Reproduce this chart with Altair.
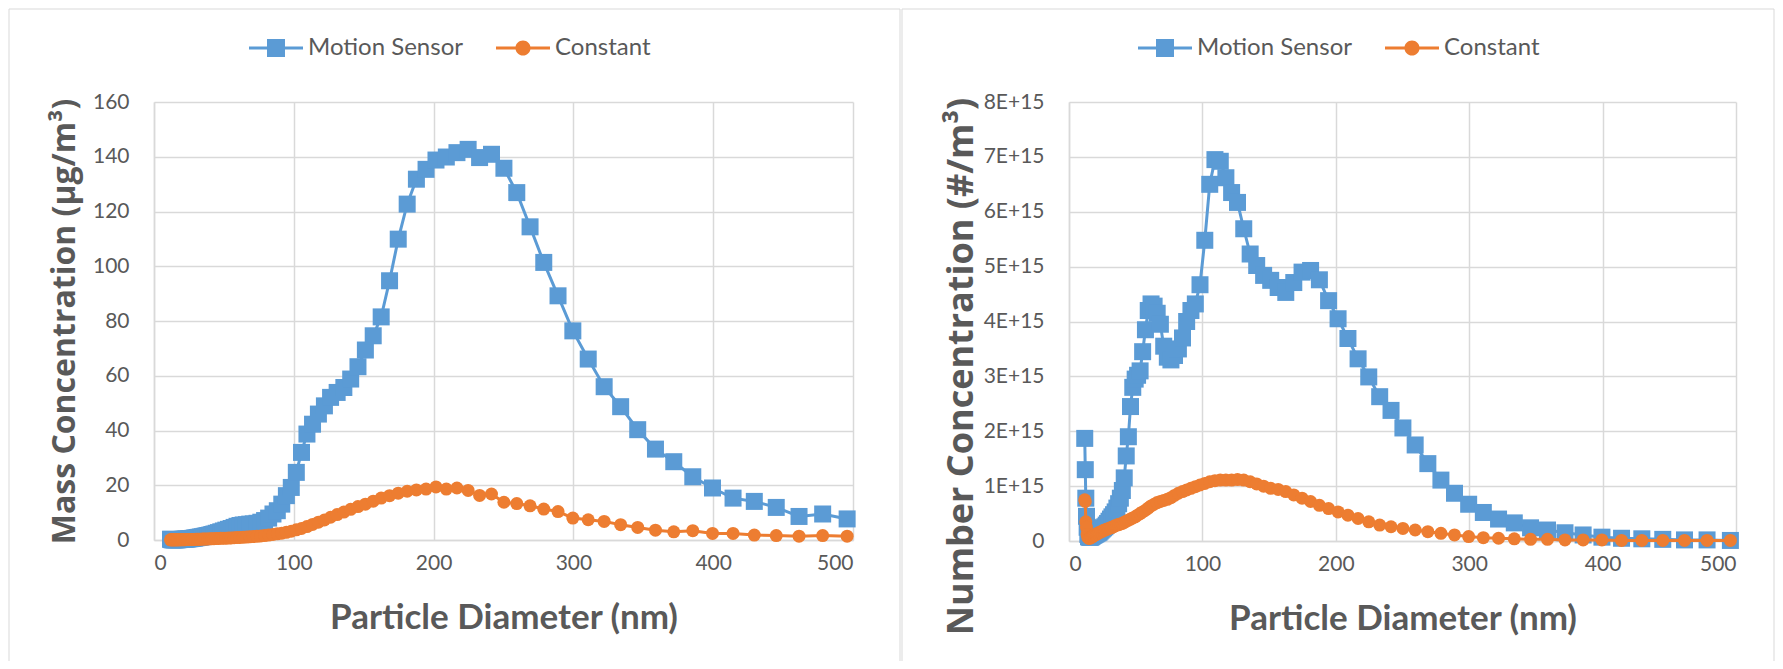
import altair as alt
import pandas as pd

# Particle diameter bins (nm)
diam = [11.8, 12.2, 12.6, 13.1, 13.6, 14.1, 14.6, 15.1, 15.7, 16.3,
        16.8, 17.5, 18.1, 18.8, 19.5, 20.2, 20.9, 21.7, 22.5, 23.3,
        24.1, 25.0, 25.9, 26.9, 27.9, 28.9, 30.0, 31.1, 32.2, 33.4,
        34.6, 35.9, 37.2, 38.5, 40.0, 41.4, 42.9, 44.5, 46.1, 47.8,
        49.6, 51.4, 53.3, 55.2, 57.3, 59.4, 61.5, 63.8, 66.1, 68.5,
        71.0, 73.7, 76.4, 79.1, 82.0, 85.1, 88.2, 91.4, 94.7, 98.2,
        101.8, 105.5, 109.4, 113.4, 117.6, 121.9, 126.3, 131.0, 135.8, 140.7,
        145.9, 151.2, 156.8, 162.5, 168.5, 174.7, 181.1, 187.7, 194.6, 201.7,
        209.1, 216.7, 224.7, 232.9, 241.4, 250.3, 259.5, 269.0, 278.8, 289.0,
        299.6, 310.6, 322.0, 333.8, 346.0, 358.7, 371.8, 385.4, 399.5, 414.2,
        429.4, 445.1, 461.4, 478.3, 495.8]

# Mass concentration (ug/m3)
mass_motion = [0.3, 0.2, 0.15, 0.1, 0.1, 0.1, 0.1, 0.1, 0.1, 0.1,
               0.12, 0.14, 0.16, 0.18, 0.2, 0.22, 0.25, 0.28, 0.32, 0.36,
               0.4, 0.45, 0.5, 0.55, 0.62, 0.7, 0.8, 0.9, 1.0, 1.1,
               1.2, 1.35, 1.5, 1.65, 1.8, 2.0, 2.2, 2.45, 2.7, 3.0,
               3.3, 3.6, 3.9, 4.2, 4.6, 5.0, 5.3, 5.5, 5.6, 5.8,
               5.9, 6.1, 6.5, 7.1, 8.0, 9.5, 10.7, 13.1, 16.2, 19.2,
               24.7, 32.0, 38.7, 42.3, 46.0, 49.0, 52.1, 53.9, 55.7, 58.8,
               63.3, 69.4, 74.6, 81.5, 94.7, 109.9, 122.7, 131.8, 135.4, 138.8,
               139.9, 141.5, 142.7, 139.7, 140.9, 135.8, 126.9, 114.4, 101.4, 89.2,
               76.4, 66.1, 56.0, 48.7, 40.3, 33.2, 28.6, 23.1, 19.0, 15.3,
               14.1, 11.9, 8.6, 9.5, 7.7]
mass_const = [0.05, 0.05, 0.05, 0.05, 0.05, 0.05, 0.06, 0.06, 0.06, 0.07,
              0.07, 0.08, 0.08, 0.09, 0.1, 0.1, 0.11, 0.12, 0.13, 0.14,
              0.15, 0.16, 0.18, 0.19, 0.2, 0.22, 0.24, 0.26, 0.28, 0.3,
              0.32, 0.35, 0.38, 0.4, 0.43, 0.46, 0.5, 0.53, 0.57, 0.6,
              0.64, 0.68, 0.72, 0.77, 0.82, 0.88, 0.94, 1.0, 1.07, 1.15,
              1.24, 1.35, 1.48, 1.62, 1.8, 2.0, 2.25, 2.5, 2.8, 3.2,
              3.7, 4.2, 4.9, 5.7, 6.5, 7.3, 8.3, 9.3, 10.2, 11.2,
              12.2, 13.1, 14.2, 15.3, 16.2, 17.1, 17.8, 18.3, 18.6, 19.4,
              18.6, 19.0, 18.1, 16.3, 16.8, 13.8, 13.3, 12.5, 11.3, 10.4,
              8.0, 7.4, 6.8, 5.6, 4.6, 3.6, 3.0, 3.4, 2.4, 2.4,
              1.8, 1.6, 1.4, 1.6, 1.4]

# Number concentration (#/m3)
num_motion = [1.87e15, 1.30e15, 0.78e15, 0.45e15, 0.25e15, 0.12e15, 0.08e15, 0.07e15, 0.07e15, 0.07e15,
              0.08e15, 0.09e15, 0.10e15, 0.11e15, 0.12e15, 0.13e15, 0.14e15, 0.15e15, 0.16e15, 0.18e15,
              0.20e15, 0.22e15, 0.24e15, 0.26e15, 0.29e15, 0.32e15, 0.36e15, 0.40e15, 0.44e15, 0.48e15,
              0.53e15, 0.60e15, 0.68e15, 0.78e15, 0.92e15, 1.15e15, 1.55e15, 1.90e15, 2.45e15, 2.80e15,
              2.95e15, 3.02e15, 3.10e15, 3.45e15, 3.85e15, 4.20e15, 4.32e15, 4.28e15, 4.15e15, 3.95e15,
              3.55e15, 3.35e15, 3.30e15, 3.38e15, 3.50e15, 3.70e15, 4.00e15, 4.20e15, 4.32e15, 4.67e15,
              5.48e15, 6.50e15, 6.95e15, 6.92e15, 6.62e15, 6.35e15, 6.17e15, 5.69e15, 5.23e15, 5.02e15,
              4.84e15, 4.75e15, 4.62e15, 4.53e15, 4.71e15, 4.90e15, 4.93e15, 4.76e15, 4.38e15, 4.05e15,
              3.69e15, 3.32e15, 2.99e15, 2.63e15, 2.38e15, 2.06e15, 1.75e15, 1.41e15, 1.11e15, 0.87e15,
              0.67e15, 0.52e15, 0.40e15, 0.33e15, 0.24e15, 0.20e15, 0.15e15, 0.11e15, 0.07e15, 0.05e15,
              0.04e15, 0.03e15, 0.02e15, 0.02e15, 0.01e15]
num_const = [0.75e15, 0.72e15, 0.35e15, 0.25e15, 0.12e15, 0.07e15, 0.05e15, 0.05e15, 0.05e15, 0.06e15,
             0.07e15, 0.08e15, 0.09e15, 0.10e15, 0.11e15, 0.12e15, 0.13e15, 0.14e15, 0.15e15, 0.16e15,
             0.17e15, 0.18e15, 0.19e15, 0.20e15, 0.21e15, 0.22e15, 0.23e15, 0.24e15, 0.25e15, 0.26e15,
             0.28e15, 0.29e15, 0.30e15, 0.31e15, 0.32e15, 0.34e15, 0.36e15, 0.38e15, 0.40e15, 0.42e15,
             0.44e15, 0.47e15, 0.50e15, 0.53e15, 0.56e15, 0.60e15, 0.64e15, 0.67e15, 0.70e15, 0.72e15,
             0.74e15, 0.76e15, 0.79e15, 0.83e15, 0.87e15, 0.90e15, 0.93e15, 0.96e15, 0.99e15, 1.02e15,
             1.05e15, 1.08e15, 1.10e15, 1.11e15, 1.11e15, 1.11e15, 1.12e15, 1.11e15, 1.08e15, 1.04e15,
             1.00e15, 0.96e15, 0.94e15, 0.90e15, 0.84e15, 0.78e15, 0.72e15, 0.65e15, 0.59e15, 0.53e15,
             0.47e15, 0.41e15, 0.35e15, 0.29e15, 0.26e15, 0.23e15, 0.20e15, 0.17e15, 0.14e15, 0.11e15,
             0.08e15, 0.06e15, 0.05e15, 0.04e15, 0.03e15, 0.03e15, 0.02e15, 0.02e15, 0.02e15, 0.01e15,
             0.01e15, 0.01e15, 0.01e15, 0.01e15, 0.01e15]

series_names = ["Motion Sensor", "Constant"]
x_ticks = [0, 100, 200, 300, 400, 500]
mass_ticks = [0, 20, 40, 60, 80, 100, 120, 140, 160]
num_ticks = [0, 1e15, 2e15, 3e15, 4e15, 5e15, 6e15, 7e15, 8e15]

BLUE = "#5B9BD5"
ORANGE = "#ED7D31"
GRID = "#D9D9D9"
TXT = "#595959"

SQ_PATH = ("M-1,-0.055L-0.333,-0.055L-0.333,-0.333L0.333,-0.333L0.333,-0.055L1,-0.055"
           "L1,0.055L0.333,0.055L0.333,0.333L-0.333,0.333L-0.333,0.055L-1,0.055Z")
CI_PATH = ("M-1,-0.055L1,-0.055L1,0.055L-1,0.055Z "
           "M-0.28,0A0.28,0.28 0 1,1 0.28,0A0.28,0.28 0 1,1 -0.28,0Z")


def panel(motion, const, ytitle, yticks, ymax, label_expr, width, height,
          title_x, title_size, title_y, frame_l, frame_r, legend_x):
    n = len(diam)
    df = pd.DataFrame({
        "d": diam + diam,
        "v": motion + const,
        "series": [series_names[0]] * n + [series_names[1]] * n,
    })
    base = alt.Chart(df)
    x = alt.X("d:Q", scale=alt.Scale(domain=[0, 500], nice=False),
              axis=alt.Axis(values=x_ticks, title="Particle Diameter (nm)",
                            labelFont="Lato", labelFontSize=21, labelColor=TXT,
                            labelPadding=12, ticks=False, tickSize=0,
                            domainColor=GRID, domainWidth=1.5,
                            grid=True, gridColor=GRID, gridWidth=1.5,
                            titleFont="Lato", titleFontSize=35, titleFontWeight="bold",
                            titleColor=TXT, titleBaseline="alphabetic", titleY=88))
    yaxis_kwargs = dict(values=yticks, title=ytitle,
                        labelFont="Lato", labelFontSize=21, labelColor=TXT,
                        labelPadding=25, ticks=False, tickSize=0,
                        domainColor=GRID, domainWidth=1.5,
                        grid=True, gridColor=GRID, gridWidth=1.5,
                        titleFont="Open Sans", titleFontSize=title_size, titleFontWeight="bold",
                        titleColor=TXT, titleBaseline="alphabetic", titleX=title_x)
    if title_y is not None:
        yaxis_kwargs["titleY"] = title_y
    if label_expr:
        yaxis_kwargs["labelExpr"] = label_expr
    y = alt.Y("v:Q", scale=alt.Scale(domain=[0, ymax], nice=False),
              axis=alt.Axis(**yaxis_kwargs))

    is_m = "datum.series == 'Motion Sensor'"
    is_c = "datum.series == 'Constant'"
    blue_line = base.transform_filter(is_m).mark_line(color=BLUE, strokeWidth=3).encode(x=x, y=y)
    blue_pts = base.transform_filter(is_m).mark_point(
        shape="square", filled=True, size=289, color=BLUE, opacity=1, strokeWidth=0).encode(x=x, y=y)
    orange_line = base.transform_filter(is_c).mark_line(color=ORANGE, strokeWidth=3).encode(x=x, y=y)
    orange_pts = base.transform_filter(is_c).mark_point(
        shape="circle", filled=True, size=169, color=ORANGE, opacity=1, strokeWidth=0).encode(x=x, y=y)

    leg = alt.Legend(orient="none", legendX=legend_x, legendY=-81, direction="horizontal",
                     title=None, labelFont="Lato", labelFontSize=24, labelColor=TXT,
                     labelLimit=400, symbolSize=2916, symbolStrokeWidth=0, symbolOpacity=1,
                     labelOffset=5, columnPadding=33, padding=0)
    legend_layer = base.transform_filter("false").mark_point(filled=True, opacity=1).encode(
        x=x, y=y,
        color=alt.Color("series:N", scale=alt.Scale(domain=series_names, range=[BLUE, ORANGE]),
                        legend=leg),
        shape=alt.Shape("series:N", scale=alt.Scale(domain=series_names, range=[SQ_PATH, CI_PATH]),
                        legend=leg),
    )

    fr = alt.Chart(pd.DataFrame({"k": [0]}))
    top = fr.mark_rule(color=GRID, strokeWidth=1).encode(
        x=alt.value(frame_l), x2=alt.value(frame_r), y=alt.value(-93), y2=alt.value(-93))
    left = fr.mark_rule(color=GRID, strokeWidth=1).encode(
        x=alt.value(frame_l), x2=alt.value(frame_l), y=alt.value(-93), y2=alt.value(559))
    right = fr.mark_rule(color=GRID, strokeWidth=1).encode(
        x=alt.value(frame_r), x2=alt.value(frame_r), y=alt.value(-93), y2=alt.value(559))

    return alt.layer(top, left, right, blue_line, blue_pts, orange_line, orange_pts,
                     legend_layer).properties(width=width, height=height)


left_panel = panel(mass_motion, mass_const, "Mass Concentration (µg/m³)", mass_ticks, 160, None,
                   699, 438, -80, 32, None, -145, 746, 95)
right_panel = panel(num_motion, num_const, "Number Concentration (#/m³)", num_ticks, 8e15,
                    "datum.value == 0 ? '0' : format(datum.value / 1e15, 'd') + 'E+15'",
                    667, 439, -97, 36, 264, -167, 705, 69)

chart = alt.hconcat(left_panel, right_panel, spacing=0).resolve_scale(
    color="independent", shape="independent").resolve_legend(
    color="independent", shape="independent").properties(padding=0).configure_view(stroke=None)

chart.save("out.html", embed_options={"renderer": "svg", "actions": False})
